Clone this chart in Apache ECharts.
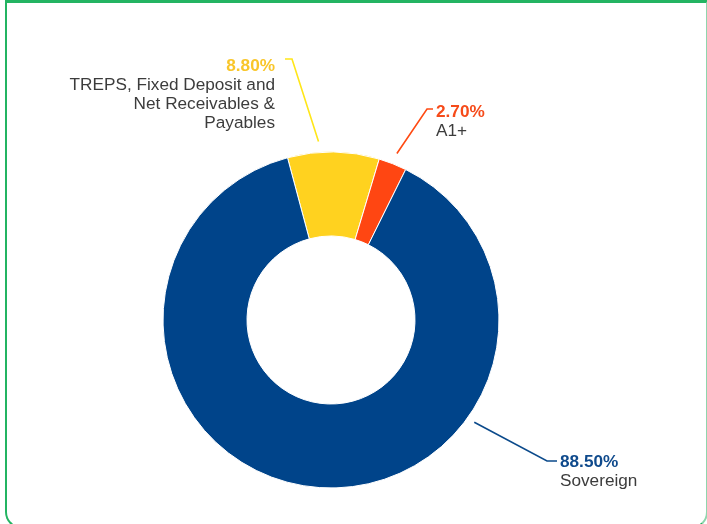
<!DOCTYPE html>
<html><head><meta charset="utf-8">
<script src="https://cdn.jsdelivr.net/npm/echarts@6/dist/echarts.min.js"></script>
<style>
html,body{margin:0;padding:0;background:#fff;overflow:hidden}
#chart{position:absolute;left:0;top:0;width:707px;height:524px}
#frame{position:absolute;left:5px;top:0;width:703px;height:529px;box-sizing:border-box;border:2px solid #23b462;border-top-width:3px;border-right-color:#8fd6ad;border-radius:0 0 17px 17px;pointer-events:none}
</style></head><body>
<div id="chart"></div><div id="frame"></div>
<script>
// ---- data ----
const categories = ['TREPS, Fixed Deposit and\nNet Receivables &\nPayables', 'A1+', 'Sovereign'];
const values = [8.80, 2.70, 88.50];
const sliceColors = ['#FFD21F', '#FF4612', '#00448A'];
const pctColors = ['#F9C62A', '#F64B1A', '#0F4A8C'];
const lineColors = ['#FFE619', '#FF4A12', '#0B4A8B'];

// ---- layout ----
const CX = 331, CY = 320, R_OUT = 168, R_IN = 84;
const FONT = 'Liberation Sans, Arial, sans-serif';
const labelPlacement = [
  {startDeg: -4,    gap: 11, elbow: [292, 59],  end: [285, 59],  text: [275, 56],  align: 'right'},
  {startDeg: 21.6,  gap: 11, elbow: [427, 109], end: [433, 109], text: [436, 102], align: 'left'},
  {startDeg: 125.5, gap: 8,  elbow: [547, 461], end: [557, 461], text: [560, 452], align: 'left'}
];

const data = categories.map(function (name, i) {
  const al = labelPlacement[i].align;
  return {
    name: name,
    value: values[i],
    itemStyle: {color: sliceColors[i]},
    labelLine: {lineStyle: {color: lineColors[i], width: 1.6}},
    label: {
      rich: {
        p: {color: pctColors[i], fontWeight: 'bold', fontSize: 17.2, lineHeight: 20, fontFamily: FONT, align: al},
        t: {color: '#3c3c3c', fontSize: 17.2, lineHeight: 19, fontFamily: FONT, align: al}
      }
    }
  };
});

const chart = echarts.init(document.getElementById('chart'), null, {renderer: 'canvas'});
chart.setOption({
  backgroundColor: 'transparent',
  animation: false,
  series: [{
    type: 'pie',
    center: [CX, CY],
    radius: [R_IN, R_OUT],
    startAngle: 105,
    clockwise: true,
    avoidLabelOverlap: false,
    emphasis: {disabled: true},
    itemStyle: {borderColor: '#ffffff', borderWidth: 1},
    label: {
      show: true,
      position: 'outside',
      formatter: function (p) {
        const i = p.dataIndex;
        const lines = categories[i].split('\n').map(function (s) { return '{t|' + s + '}'; });
        return '{p|' + values[i].toFixed(2) + '%}\n' + lines.join('\n');
      }
    },
    labelLine: {show: true, length: 20, length2: 8},
    labelLayout: function (params) {
      const p = labelPlacement[params.dataIndex];
      const a = p.startDeg * Math.PI / 180;
      const r = R_OUT + p.gap;
      const sx = CX + r * Math.sin(a), sy = CY - r * Math.cos(a);
      return {
        x: p.text[0], y: p.text[1], align: p.align, verticalAlign: 'top',
        labelLinePoints: [[sx, sy], p.elbow.slice(), p.end.slice()]
      };
    },
    data: data
  }]
});
</script>
</body></html>
